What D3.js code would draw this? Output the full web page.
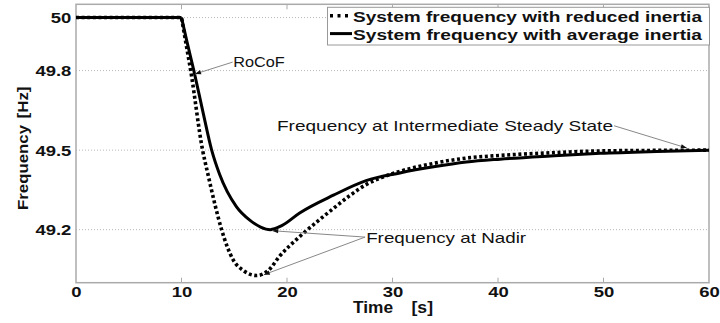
<!DOCTYPE html>
<html>
<head>
<meta charset="utf-8">
<style>
  body { margin: 0; background: #fff; }
  svg { display: block; font-family: "Liberation Sans", Arial, sans-serif; }
</style>
</head>
<body>
<svg id="chart" width="720" height="323"></svg>

<script src="https://d3js.org/d3.v7.min.js"></script>
<script>
// time axis (s) and the two frequency traces (Hz)
const timeReduced = [0, 10, 10.5, 10.87, 12.0, 12.5, 13.2, 13.8, 14.9, 15.9, 17.1, 18.2, 19.3, 21.2, 23.0, 24.4, 26.0, 27.5, 29.0, 30.7, 33.9, 37.0, 40.2, 45.0, 49.7, 55.0, 60]
const freqReduced = [50, 50, 49.885, 49.8, 49.5, 49.41, 49.29, 49.2, 49.086, 49.045, 49.027, 49.045, 49.1, 49.174, 49.235, 49.28, 49.33, 49.37, 49.397, 49.42, 49.45, 49.47, 49.48, 49.49, 49.497, 49.499, 49.5]

const timeAverage = [0, 10, 10.5, 11.17, 12.0, 12.86, 13.6, 15.2, 16.5, 17.5, 18.4, 19.5, 21.2, 24.4, 27.5, 30.7, 33.9, 37.0, 40.2, 45.0, 49.7, 55.0, 60]
const freqAverage = [50, 50, 49.912, 49.8, 49.65, 49.5, 49.41, 49.287, 49.235, 49.21, 49.2, 49.215, 49.263, 49.33, 49.385, 49.414, 49.437, 49.455, 49.466, 49.478, 49.488, 49.495, 49.5]

const xTicks = [0, 10, 20, 30, 40, 50, 60]
const yTicks = [49.2, 49.5, 49.8, 50]
const yTickLabels = ['49.2', '49.5', '49.8', '50']

const legendLabels = ['System frequency with reduced inertia', 'System frequency with average inertia']

// annotations: text anchor and arrow tips in data units
const annotations = [
  { text: 'RoCoF', tx: 14.9, tf: 49.812, anchor: 'start', len: 51.5,
    from: [14.85, 49.832], tips: [[11.28, 49.787]] },
  { text: 'Frequency at Intermediate Steady State', tx: 50.9, tf: 49.572, anchor: 'end', len: 336,
    from: [51.0, 49.592], tips: [[57.9, 49.508]] },
  { text: 'Frequency at Nadir', tx: 27.5, tf: 49.149, anchor: 'start', len: 160,
    from: [27.4, 49.172], tips: [[18.6, 49.196], [17.8, 49.03]] }
]

const svg = d3.select('#chart')
const pLeft = 76, pRight = 709, pTop = 4.3, pBottom = 282.7

const x = d3.scaleLinear().domain([0, 60]).range([pLeft, pRight])
const y = d3.scaleLinear().domain([49.0, 50.05]).range([pBottom, pTop])

// horizontal dotted grid
svg.append('g')
  .selectAll('line')
  .data(yTicks)
  .join('line')
  .attr('x1', pLeft).attr('x2', pRight)
  .attr('y1', d => y(d)).attr('y2', d => y(d))
  .attr('stroke', '#b8b8b8')
  .attr('stroke-width', 1)
  .attr('stroke-dasharray', '1,2')

// x axis with inward ticks
const xAxis = svg.append('g')
  .attr('transform', `translate(0,${pBottom})`)
  .call(d3.axisBottom(x).tickValues(xTicks).tickSize(0).tickPadding(0))
xAxis.select('.domain').remove()
xAxis.selectAll('text')
  .attr('y', 14.6)
  .attr('dy', 0)
  .attr('fill', '#111')
  .attr('font-size', 14)
  .attr('font-weight', 'bold')
  .attr('font-family', '"Liberation Sans", Arial, sans-serif')
  .attr('transform', 'scale(1.32,1)')

// small tick marks at top and bottom, inside the box
svg.append('g')
  .selectAll('line')
  .data(xTicks.slice(1, -1))
  .join('line')
  .attr('x1', d => x(d)).attr('x2', d => x(d))
  .attr('y1', pBottom).attr('y2', pBottom - 5)
  .attr('stroke', '#aaa')
svg.append('g')
  .selectAll('line')
  .data(xTicks.slice(1, -1))
  .join('line')
  .attr('x1', d => x(d)).attr('x2', d => x(d))
  .attr('y1', pTop).attr('y2', pTop + 5)
  .attr('stroke', '#aaa')

const yAxis = svg.append('g')
  .attr('transform', `translate(${pLeft},0)`)
  .call(d3.axisLeft(y).tickValues(yTicks).tickFormat((d, i) => yTickLabels[i]).tickSize(0).tickPadding(0))
yAxis.select('.domain').remove()
yAxis.selectAll('text')
  .attr('x', -3.5)
  .attr('dy', '0.36em')
  .attr('fill', '#111')
  .attr('font-size', 14)
  .attr('font-weight', 'bold')
  .attr('font-family', '"Liberation Sans", Arial, sans-serif')
  .attr('transform', 'scale(1.32,1)')

// frame
svg.append('rect')
  .attr('x', pLeft).attr('y', pTop)
  .attr('width', pRight - pLeft).attr('height', pBottom - pTop)
  .attr('fill', 'none')
  .attr('stroke', '#aaa')
  .attr('stroke-width', 1.5)

// curves: flat part drawn straight, the rest smoothed, so the corner at t=10 stays sharp
const line = d3.line()
  .x(d => x(d[0]))
  .y(d => y(d[1]))
  .curve(d3.curveMonotoneX)

function tracePath(ts, fs) {
  const pts = ts.map((t, i) => [t, fs[i]])
  const k = ts.indexOf(10)
  const head = pts.slice(0, k + 1).map(p => `${x(p[0])},${y(p[1])}`).join('L')
  const tail = line(pts.slice(k))
  return 'M' + head + 'L' + tail.slice(1)
}

svg.append('path')
  .attr('d', tracePath(timeAverage, freqAverage))
  .attr('fill', 'none')
  .attr('stroke', '#000')
  .attr('stroke-width', 3)
  .attr('stroke-linejoin', 'miter')

svg.append('path')
  .attr('d', tracePath(timeReduced, freqReduced))
  .attr('fill', 'none')
  .attr('stroke', '#000')
  .attr('stroke-width', 3.6)
  .attr('stroke-dasharray', '3,2.6')

// axis titles
svg.append('text')
  .attr('x', 353).attr('y', 312.5)
  .attr('font-size', 16).attr('font-weight', 'bold')
  .attr('textLength', 40).attr('lengthAdjust', 'spacingAndGlyphs')
  .attr('fill', '#111')
  .text('Time')
svg.append('text')
  .attr('x', 411.5).attr('y', 312.5)
  .attr('font-size', 16).attr('font-weight', 'bold')
  .attr('textLength', 21.5).attr('lengthAdjust', 'spacingAndGlyphs')
  .attr('fill', '#111')
  .text('[s]')

svg.append('text')
  .attr('transform', 'translate(27.5,210) rotate(-90)')
  .attr('font-size', 15).attr('font-weight', 'bold')
  .attr('textLength', 85).attr('lengthAdjust', 'spacingAndGlyphs')
  .attr('fill', '#111')
  .text('Frequency')
svg.append('text')
  .attr('transform', 'translate(27.5,118.5) rotate(-90)')
  .attr('font-size', 15).attr('font-weight', 'bold')
  .attr('textLength', 32).attr('lengthAdjust', 'spacingAndGlyphs')
  .attr('fill', '#111')
  .text('[Hz]')

// annotations
const ann = svg.append('g')
annotations.forEach(a => {
  a.tips.forEach(tp => {
    const x0 = x(a.from[0]), y0 = y(a.from[1])
    const x1 = x(tp[0]), y1 = y(tp[1])
    ann.append('line')
      .attr('x1', x0).attr('y1', y0).attr('x2', x1).attr('y2', y1)
      .attr('stroke', '#888').attr('stroke-width', 1)
    const ang = Math.atan2(y1 - y0, x1 - x0)
    const L = 6, W = 2.2
    const bx = x1 - L * Math.cos(ang), by = y1 - L * Math.sin(ang)
    const px = -Math.sin(ang) * W, py = Math.cos(ang) * W
    ann.append('path')
      .attr('d', `M${x1},${y1}L${bx + px},${by + py}L${bx - px},${by - py}Z`)
      .attr('fill', '#111')
  })
  ann.append('text')
    .attr('x', x(a.tx)).attr('y', y(a.tf))
    .attr('text-anchor', a.anchor)
    .attr('font-size', 15)
    .attr('textLength', a.len).attr('lengthAdjust', 'spacingAndGlyphs')
    .attr('fill', '#111')
    .text(a.text)
})

// legend
const lg = svg.append('g')
lg.append('rect')
  .attr('x', 327.5).attr('y', 7.3)
  .attr('width', 382).attr('height', 37.7)
  .attr('fill', '#fff')
  .attr('stroke', '#999')
  .attr('stroke-width', 1)

const rows = lg.selectAll('g.row')
  .data(legendLabels)
  .join('g')
  .attr('class', 'row')
  .attr('transform', (d, i) => `translate(0,${i === 0 ? 15.7 : 33.6})`)

rows.append('line')
  .attr('x1', 330).attr('x2', 352)
  .attr('stroke', '#000')
  .attr('stroke-width', (d, i) => i === 0 ? 3.6 : 3)
  .attr('stroke-dasharray', (d, i) => i === 0 ? '3,4.5' : null)

rows.append('text')
  .attr('x', 353).attr('y', 6.5)
  .attr('font-size', 15).attr('font-weight', 'bold')
  .attr('textLength', 349).attr('lengthAdjust', 'spacingAndGlyphs')
  .attr('fill', '#111')
  .text(d => d)
</script>
</body>
</html>
